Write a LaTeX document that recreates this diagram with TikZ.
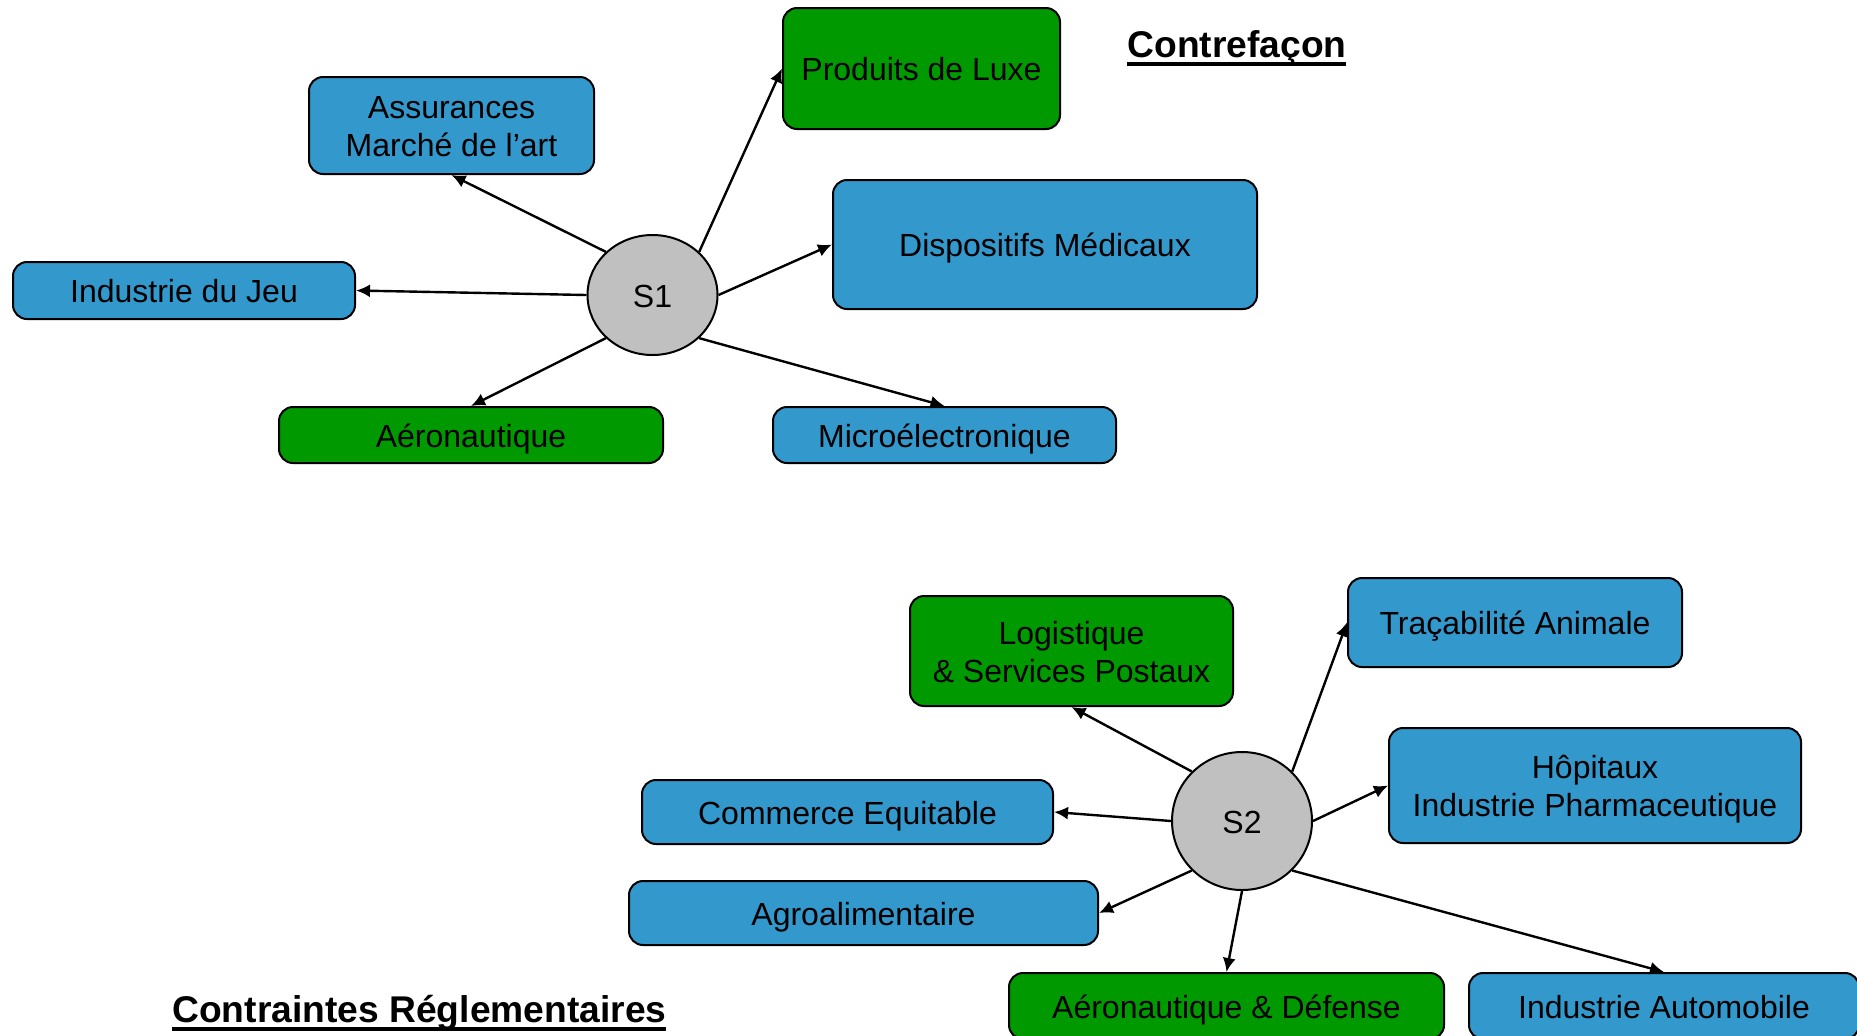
\documentclass[tikz,border=0pt]{standalone}
\usepackage{fontspec}
\setmainfont{Liberation Sans}
\usetikzlibrary{arrows.meta,shapes.geometric}
\definecolor{boxblue}{RGB}{51,153,204}
\definecolor{boxgreen}{RGB}{0,153,0}
\definecolor{hubgray}{RGB}{192,192,192}
\newcommand\myul[1]{\setbox0\hbox{#1}\rlap{\rule[-4.6pt]{\wd0}{2pt}}\box0}
\tikzset{
  base/.style={draw=black, line width=1pt, rounded corners=7pt, align=center,
    inner sep=0pt, font=\fontsize{16}{19}\selectfont, text height=12.6pt, text depth=0.4pt},
  twoline/.style={text height=31.6pt, text depth=0.4pt},
  bluebox/.style={base, fill=boxblue},
  greenbox/.style={base, fill=boxgreen},
  hub/.style={ellipse, draw=black, line width=1pt, fill=hubgray, inner sep=0pt,
    font=\fontsize{16}{19}\selectfont, text height=12.6pt, text depth=0.4pt},
  link/.style={line width=1.2pt, -{Latex[length=7pt,width=6.5pt]}},
  heading/.style={font=\fontsize{18.6}{22}\selectfont\bfseries, inner sep=0pt, anchor=base west}
}
\begin{document}
\begin{tikzpicture}[x=0.5pt,y=-0.5pt]
\useasboundingbox (0,0) rectangle (1857,1035);
% Top group
\node[greenbox, minimum width=138.5pt, minimum height=60.5pt] (luxe) at (921.5,68.5) {Produits de Luxe};
\node[heading] (t1) at (1127,57) {\myul{Contrefaçon}};
\node[bluebox, twoline, minimum width=142.5pt, minimum height=48.5pt] (assur) at (451.5,125.5) {Assurances\\Marché de l’art};
\node[bluebox, minimum width=212pt, minimum height=64.5pt] (medic) at (1045,244.5) {Dispositifs Médicaux};
\node[bluebox, minimum width=171pt, minimum height=28.5pt] (jeu) at (184,290.5) {Industrie du Jeu};
\node[hub, minimum width=65pt, minimum height=60pt] (s1) at (652.5,295) {S1};
\node[greenbox, minimum width=192pt, minimum height=28pt] (aero) at (471,435) {Aéronautique};
\node[bluebox, minimum width=171.5pt, minimum height=28pt] (micro) at (944.5,435) {Microélectronique};
% Bottom group
\node[greenbox, twoline, minimum width=161.5pt, minimum height=55pt] (logi) at (1071.5,651) {Logistique\\\& Services Postaux};
\node[bluebox, minimum width=167pt, minimum height=44.5pt] (trac) at (1515,622.5) {Traçabilité Animale};
\node[bluebox, twoline, minimum width=206pt, minimum height=57.5pt] (hopi) at (1595,785.5) {Hôpitaux\\Industrie Pharmaceutique};
\node[bluebox, minimum width=205.5pt, minimum height=32pt] (comm) at (847.5,812) {Commerce Equitable};
\node[hub, minimum width=70pt, minimum height=69pt] (s2) at (1242,821) {S2};
\node[bluebox, minimum width=234.5pt, minimum height=32pt] (agro) at (863.5,913) {Agroalimentaire};
\node[greenbox, minimum width=217.5pt, minimum height=33pt] (aerodef) at (1226.5,1006) {Aéronautique \& Défense};
\node[bluebox, minimum width=195pt, minimum height=33pt] (auto) at (1664,1006) {Industrie Automobile};
\node[heading] (t2) at (172,1022) {\myul{Contraintes Réglementaires}};
% Connectors S1
\draw[link] (s1.north east) -- (luxe.west);
\draw[link] (s1.north west) -- (assur.south);
\draw[link] (s1.west) -- (jeu.east);
\draw[link] (s1.east) -- (medic.west);
\draw[link] (s1.south west) -- (aero.north);
\draw[link] (s1.south east) -- (micro.north);
% Connectors S2
\draw[link] (s2.north west) -- (logi.south);
\draw[link] (s2.north east) -- (trac.west);
\draw[link] (s2.east) -- (hopi.west);
\draw[link] (s2.west) -- (comm.east);
\draw[link] (s2.south west) -- (agro.east);
\draw[link] (s2.south) -- (aerodef.north);
\draw[link] (s2.south east) -- (auto.north);
\end{tikzpicture}
\end{document}
